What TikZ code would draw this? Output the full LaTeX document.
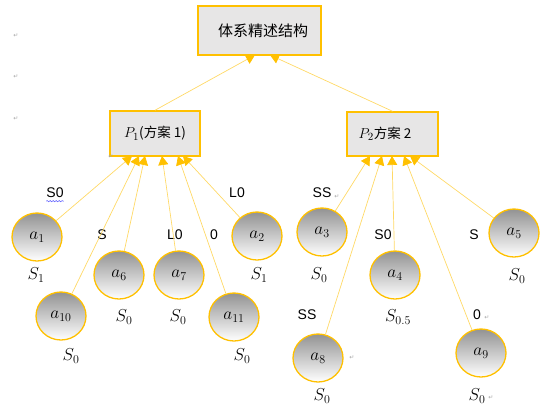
\documentclass[tikz,border=0pt]{standalone}
\usepackage{fontspec}
\newfontfamily\cjk{Noto Sans CJK SC}
\newfontfamily\lsans{Liberation Sans}
\newfontfamily\dvs{DejaVu Sans}
\usetikzlibrary{shapes.geometric,arrows.meta,decorations.pathmorphing}
\definecolor{gold}{HTML}{FFC000}
\definecolor{lgold}{HTML}{FFD966}
\definecolor{boxgray}{HTML}{E7E6E6}
\begin{document}
\begin{tikzpicture}[x=1pt,y=-1pt,
  box/.style={draw=gold,line width=1.5pt,fill=boxgray,inner sep=0pt},
  ball/.style={ellipse,draw=gold,line width=1.3pt,top color=gray!85,bottom color=white,
    minimum width=50pt,minimum height=48pt,inner sep=0pt,font=\fontsize{17}{19}\selectfont},
  sub/.style={font=\fontsize{17}{19}\selectfont,inner sep=0pt},
  elab/.style={font=\lsans\fontsize{14}{16}\selectfont,inner sep=0pt},
  conn/.style={draw=lgold,line width=0.7pt,-{Triangle[length=9pt,width=10pt,color=gold]}},
  retmark/.style={font=\dvs\fontsize{6}{6}\selectfont,text=gray!70,inner sep=0pt}]
\useasboundingbox (0,0) rectangle (546,407);
% boxes
\node[box,minimum width=123pt,minimum height=49pt,font=\cjk\fontsize{15}{17}\selectfont] (top) at (259.5,30.5) {\hspace*{7pt}体系精述结构};
\node[box,minimum width=90pt,minimum height=45pt,font=\fontsize{15}{17}\selectfont] (P1) at (155,133.5) {$P_1${\cjk\fontsize{13.5}{15}\selectfont (方案 1)}};
\node[box,minimum width=91pt,minimum height=44pt,font=\fontsize{15}{17}\selectfont] (P2) at (392.5,134) {$P_2${\cjk\fontsize{13.5}{15}\selectfont 方案 2}\hspace*{15pt}};
% tip coordinates
\coordinate (tA) at (255,55);
\coordinate (tB) at (270,55);
\coordinate (q1) at (132,156);
\coordinate (q10) at (139,156);
\coordinate (q6) at (145,156);
\coordinate (q7) at (162,156);
\coordinate (q11) at (178,156);
\coordinate (q2) at (183,156);
\coordinate (r3) at (370,156);
\coordinate (r8) at (382,156);
\coordinate (r4) at (392,156);
\coordinate (r9) at (404,156);
\coordinate (r5) at (410,156);
% balls
\node[ball] (a1) at (37,237) {$a_1$};
\node[ball] (a2) at (257,236) {$a_2$};
\node[ball] (a6) at (119,275) {$a_6$};
\node[ball] (a7) at (179,275) {$a_7$};
\node[ball] (a10) at (61,316) {$a_{10}$};
\node[ball] (a11) at (234,317) {$a_{11}$};
\node[ball] (a3) at (322,232) {$a_3$};
\node[ball] (a5) at (514,233) {$a_5$};
\node[ball] (a4) at (395,275) {$a_4$};
\node[ball] (a8) at (318,358) {$a_8$};
\node[ball] (a9) at (481,353) {$a_9$};
% S labels
\node[sub] (s1) at (36,275) {$S_1$};
\node[sub] (s10) at (71,356) {$S_0$};
\node[sub] (s6) at (124,317) {$S_0$};
\node[sub] (s7) at (178,317) {$S_0$};
\node[sub] (s11) at (242,356) {$S_0$};
\node[sub] (s2) at (259,275) {$S_1$};
\node[sub] (s3) at (319,275) {$S_0$};
\node[sub] (s5) at (517,276) {$S_0$};
\node[sub] (s4) at (398,317) {$S_{0.5}$};
\node[sub] (s8) at (322,396) {$S_0$};
\node[sub] (s9) at (477,396) {$S_0$};
% edge labels
\node[elab] (l1) at (55,193) {S0};
\node[elab] (l10) at (102,235) {S};
\node[elab] (l7) at (175,235) {L0};
\node[elab] (l11) at (214,235) {0};
\node[elab] (l2) at (237,193) {L0};
\node[elab] (l3) at (322,193) {SS};
\node[elab] (l4) at (383,235) {S0};
\node[elab] (l5) at (474,235) {S};
\node[elab] (l8) at (307,315) {SS};
\node[elab] (l9) at (477,315) {0};
\draw[blue!70,line width=0.5pt,decorate,decoration={snake,amplitude=0.6pt,segment length=3pt}]
  ([yshift=-3pt]l1.south west) -- ([yshift=-3pt]l1.south east);
% connectors
\draw[conn] (P1.north) -- (tA);
\draw[conn] (P2.north) -- (tB);
\draw[conn] (a1) -- (q1);
\draw[conn] (a10) -- (q10);
\draw[conn] (a6) -- (q6);
\draw[conn] (a7) -- (q7);
\draw[conn] (a11) -- (q11);
\draw[conn] (a2) -- (q2);
\draw[conn] (a3) -- (r3);
\draw[conn] (a8) -- (r8);
\draw[conn] (a4) -- (r4);
\draw[conn] (a9) -- (r9);
\draw[conn] (a5) -- (r5);
% paragraph marks
\node[retmark] (m1) at (16,36) {↵};
\node[retmark] (m2) at (16,77) {↵};
\node[retmark] (m3) at (16,119) {↵};
\node[retmark] (m4) at (111,157) {↵};
\node[retmark] (m5) at (337,197) {↵};
\node[retmark] (m6) at (487,318) {↵};
\node[retmark] (m7) at (352,358) {↵};
\node[retmark] (m8) at (491,398) {↵};
\end{tikzpicture}
\end{document}
